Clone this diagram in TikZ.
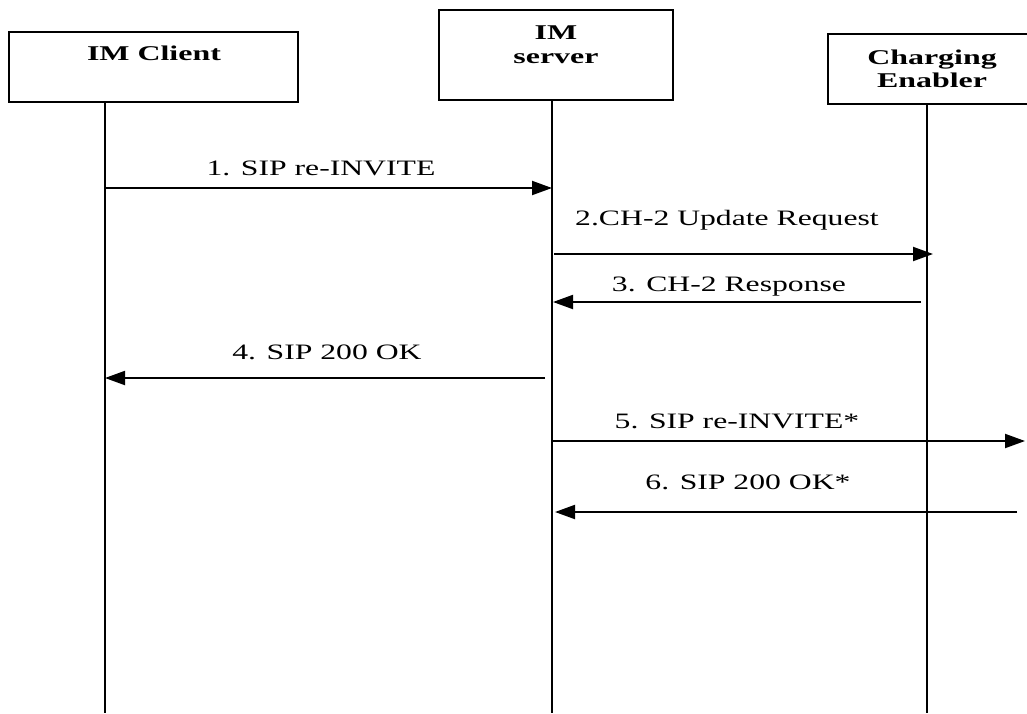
\documentclass[tikz,border=0pt]{standalone}
\usepackage{fontspec}
\setmainfont{Liberation Serif}
\newfontfamily\msgfont{Liberation Serif}[FakeStretch=1.44]
\newfontfamily\boxfont{Liberation Serif}[FakeStretch=1.52]
\usetikzlibrary{arrows.meta,fit}
\begin{document}
\begin{tikzpicture}[x=0.5pt,y=-0.5pt,line width=1pt,
  actor/.style={draw,inner sep=0pt},
  title/.style={anchor=base,align=center,font=\boxfont\bfseries\fontsize{10.5}{12}\selectfont},
  msg/.style={-{Triangle[length=10pt,width=7pt]}},
  lbl/.style={anchor=base,font=\msgfont\fontsize{11}{13}\selectfont}]

\useasboundingbox (0,0) rectangle (1027,713);
\clip (0,0) rectangle (1027,713);

\node[actor,fit={(9,32) (298,102)}] (client) {};
\node[actor,fit={(439,10) (673,100)}] (server) {};
\node[actor,fit={(828,34) (1036,104)}] (enabler) {};

\node[title] (clientname) at (154,60) {IM Client};
\node[title] (servername) at (556,63) {IM\\server};
\node[title,font=\boxfont\bfseries\fontsize{10.5}{11.5}\selectfont] (enablername) at (932,87) {Charging\\Enabler};

\coordinate (clienttop) at (105,102);
\coordinate (clientend) at (105,713);
\coordinate (servertop) at (552,100);
\coordinate (serverend) at (552,713);
\coordinate (enablertop) at (927,104);
\coordinate (enablerend) at (927,713);

\draw (clienttop) -- (clientend);
\draw (servertop) -- (serverend);
\draw (enablertop) -- (enablerend);

\coordinate (m1s) at (105,188);
\coordinate (m1e) at (552,188);
\coordinate (m2s) at (554,254);
\coordinate (m2e) at (933,254);
\coordinate (m3s) at (921,302);
\coordinate (m3e) at (553,302);
\coordinate (m4s) at (545,378);
\coordinate (m4e) at (105,378);
\coordinate (m5s) at (553,441);
\coordinate (m5e) at (1025,441);
\coordinate (m6s) at (1017,512);
\coordinate (m6e) at (555,512);

\draw[msg] (m1s) -- (m1e);
\draw[msg] (m2s) -- (m2e);
\draw[msg] (m3s) -- (m3e);
\draw[msg] (m4s) -- (m4e);
\draw[msg] (m5s) -- (m5e);
\draw[msg] (m6s) -- (m6e);

\node[lbl] (l1) at (321,175) {1. SIP re-INVITE};
\node[lbl] (l2) at (727,225) {2.CH-2 Update Request};
\node[lbl] (l3) at (729,291) {3. CH-2 Response};
\node[lbl] (l4) at (327,359) {4. SIP 200 OK};
\node[lbl] (l5) at (737,428) {5. SIP re-INVITE*};
\node[lbl] (l6) at (748,489) {6. SIP 200 OK*};
\end{tikzpicture}
\end{document}
